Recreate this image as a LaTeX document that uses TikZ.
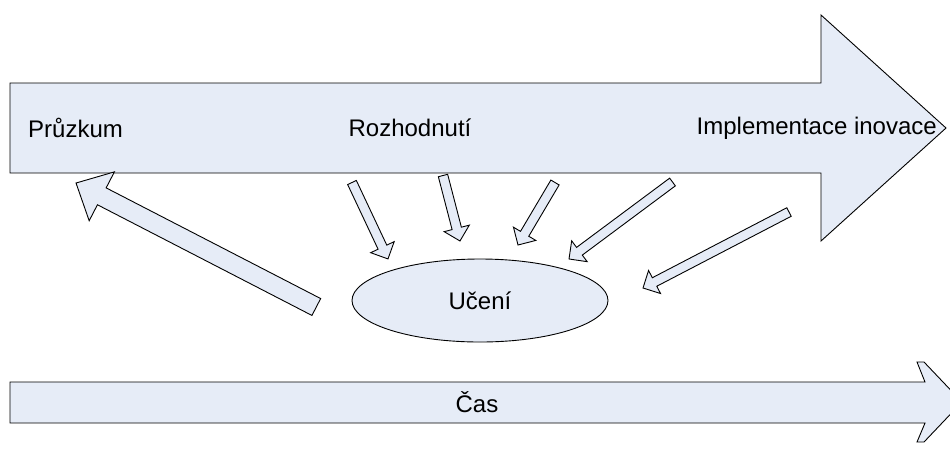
\documentclass[tikz,border=0pt]{standalone}
\usepackage{fontspec}
\setmainfont{Liberation Sans}
\usetikzlibrary{shapes.geometric}
\definecolor{pale}{RGB}{230,236,247}
\tikzset{
  shapefill/.style={fill=pale, draw=black, line width=0.9pt, line join=miter},
  txt/.style={font=\fontsize{24}{28}\selectfont, inner sep=0pt},
}
% Block arrow from a tail coordinate to a tip coordinate:
% #1 tail, #2 tip, #3 half shaft width, #4 half head width, #5 head length (pt)
\newcommand\blockarrow[5]{%
  \path (#1); \pgfgetlastxy{\bax}{\bay}
  \path (#2); \pgfgetlastxy{\bbx}{\bby}
  \pgfmathsetmacro\baang{atan2(\bby-\bay,\bbx-\bax)}
  \pgfmathsetmacro\balen{veclen(\bbx-\bax,\bby-\bay)}
  \draw[shapefill, shift={(#1)}, rotate=\baang]
    (0pt,#3pt) -- (\balen pt-#5pt,#3pt) -- (\balen pt-#5pt,#4pt) -- (\balen pt,0pt)
    -- (\balen pt-#5pt,-#4pt) -- (\balen pt-#5pt,-#3pt) -- (0pt,-#3pt) -- cycle;
}
\begin{document}
\begin{tikzpicture}[x=1pt,y=-1pt]
\useasboundingbox (0,0) rectangle (950,448);
\clip (0,0) rectangle (950,448);

% main process arrow
\draw[shapefill] (10,83) -- (821,83) -- (821,15) -- (946,128) -- (821,241)
  -- (821,173) -- (10,173) -- cycle;
\node[txt, anchor=west] (pruzkum) at (28,128) {Průzkum};
\node[txt] (rozhodnuti) at (410,128) {Rozhodnutí};
\node[txt, anchor=east] (implementace) at (937,128) {Implementace inovace};

% learning
\node[shapefill, ellipse, minimum width=256pt, minimum height=83pt, inner sep=0pt,
  font=\fontsize{24}{28}\selectfont] (uceni) at (480,300.5) {Učení};

% time arrow
\draw[shapefill] (10,382) -- (925,382) -- (917,362) -- (924,362) -- (962,402)
  -- (924,442) -- (917,442) -- (925,423) -- (10,423) -- cycle;
\node[txt] (cas) at (477,402.5) {Čas};

% feedback arrow towards the start
\coordinate (fbtail) at (316.3,307);
\coordinate (fbtip) at (76,183);
\blockarrow{fbtail}{fbtip}{9.5}{27.5}{29}

% arrows feeding into learning
\coordinate (a1tail) at (352,182.5);  \coordinate (a1tip) at (388,259);
\coordinate (a2tail) at (443,175.5);  \coordinate (a2tip) at (460,241);
\coordinate (a3tail) at (555,182.5);  \coordinate (a3tip) at (518,245);
\coordinate (a4tail) at (672.5,182);  \coordinate (a4tip) at (569,259);
\coordinate (a5tail) at (789,212);    \coordinate (a5tip) at (643,288);
\blockarrow{a1tail}{a1tip}{4.8}{13}{13}
\blockarrow{a2tail}{a2tip}{4.8}{13}{13}
\blockarrow{a3tail}{a3tip}{4.8}{13}{13}
\blockarrow{a4tail}{a4tip}{4.8}{13}{13}
\blockarrow{a5tail}{a5tip}{4.8}{13}{13}
\end{tikzpicture}
\end{document}
